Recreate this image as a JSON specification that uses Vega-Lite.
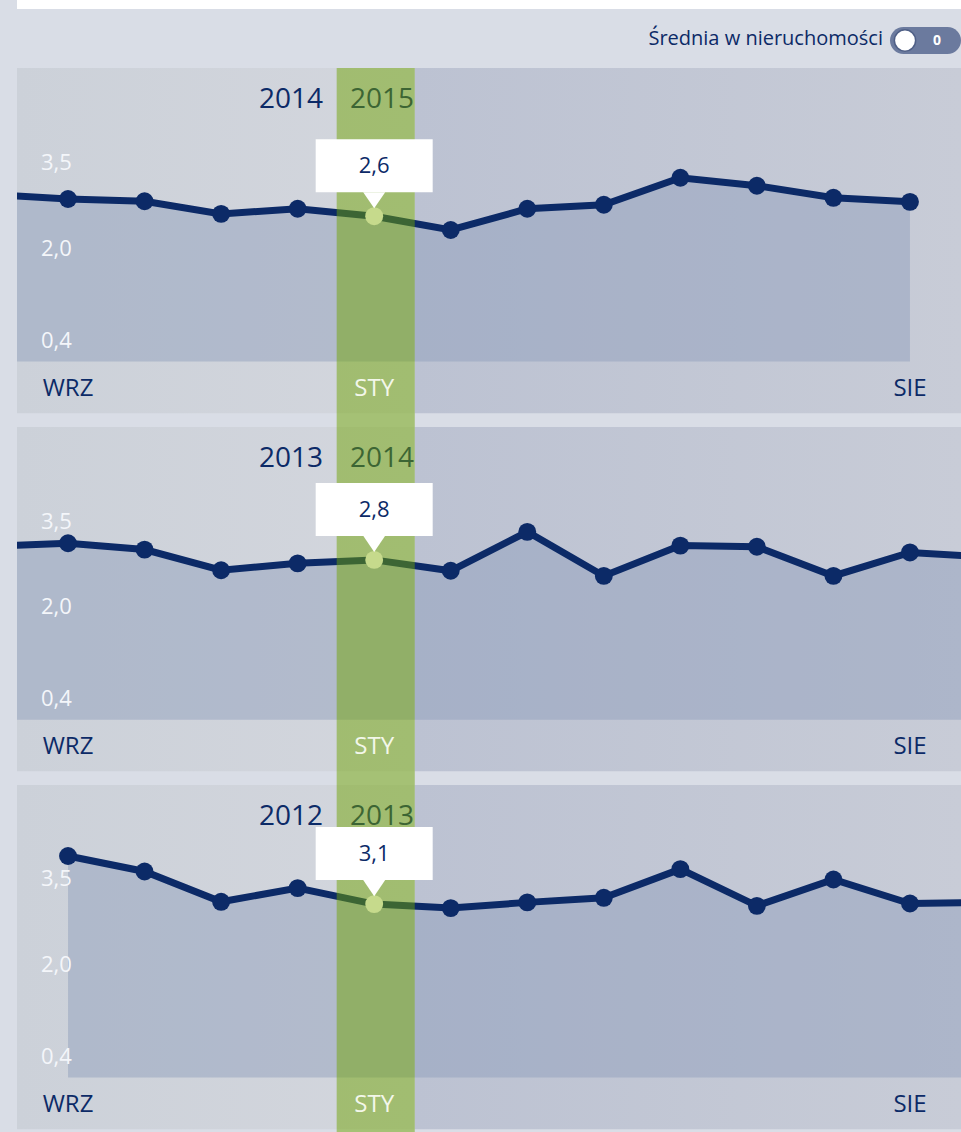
{
  "$schema": "https://vega.github.io/schema/vega-lite/v6.json",
  "background": "#d9dde6",
  "padding": {"left": 17, "right": 0, "top": 0, "bottom": 0},
  "spacing": 0,
  "config": {
    "view": {"stroke": null},
    "font": "Open Sans",
    "locale": {"number": {"decimal": ",", "thousands": " ", "grouping": [3], "currency": ["", " zł"]}}
  },
  "datasets": {
    "series": [
      {"panel": 1, "i": -1, "m": "SIE", "v": 2.95, "sel": 0},
      {"panel": 1, "i": 0, "m": "WRZ", "v": 2.87, "sel": 0},
      {"panel": 1, "i": 1, "m": "PAŹ", "v": 2.83, "sel": 0},
      {"panel": 1, "i": 2, "m": "LIS", "v": 2.61, "sel": 0},
      {"panel": 1, "i": 3, "m": "GRU", "v": 2.70, "sel": 0},
      {"panel": 1, "i": 4, "m": "STY", "v": 2.57, "sel": 1},
      {"panel": 1, "i": 5, "m": "LUT", "v": 2.33, "sel": 0},
      {"panel": 1, "i": 6, "m": "MAR", "v": 2.70, "sel": 0},
      {"panel": 1, "i": 7, "m": "KWI", "v": 2.77, "sel": 0},
      {"panel": 1, "i": 8, "m": "MAJ", "v": 3.24, "sel": 0},
      {"panel": 1, "i": 9, "m": "CZE", "v": 3.10, "sel": 0},
      {"panel": 1, "i": 10, "m": "LIP", "v": 2.89, "sel": 0},
      {"panel": 1, "i": 11, "m": "SIE", "v": 2.82, "sel": 0},
      {"panel": 2, "i": -1, "m": "SIE", "v": 3.07, "sel": 0},
      {"panel": 2, "i": 0, "m": "WRZ", "v": 3.12, "sel": 0},
      {"panel": 2, "i": 1, "m": "PAŹ", "v": 3.01, "sel": 0},
      {"panel": 2, "i": 2, "m": "LIS", "v": 2.65, "sel": 0},
      {"panel": 2, "i": 3, "m": "GRU", "v": 2.77, "sel": 0},
      {"panel": 2, "i": 4, "m": "STY", "v": 2.83, "sel": 1},
      {"panel": 2, "i": 5, "m": "LUT", "v": 2.64, "sel": 0},
      {"panel": 2, "i": 6, "m": "MAR", "v": 3.32, "sel": 0},
      {"panel": 2, "i": 7, "m": "KWI", "v": 2.55, "sel": 0},
      {"panel": 2, "i": 8, "m": "MAJ", "v": 3.08, "sel": 0},
      {"panel": 2, "i": 9, "m": "CZE", "v": 3.06, "sel": 0},
      {"panel": 2, "i": 10, "m": "LIP", "v": 2.55, "sel": 0},
      {"panel": 2, "i": 11, "m": "SIE", "v": 2.96, "sel": 0},
      {"panel": 2, "i": 12, "m": "WRZ", "v": 2.88, "sel": 0},
      {"panel": 3, "i": 0, "m": "WRZ", "v": 3.91, "sel": 0},
      {"panel": 3, "i": 1, "m": "PAŹ", "v": 3.64, "sel": 0},
      {"panel": 3, "i": 2, "m": "LIS", "v": 3.11, "sel": 0},
      {"panel": 3, "i": 3, "m": "GRU", "v": 3.35, "sel": 0},
      {"panel": 3, "i": 4, "m": "STY", "v": 3.07, "sel": 1},
      {"panel": 3, "i": 5, "m": "LUT", "v": 3.00, "sel": 0},
      {"panel": 3, "i": 6, "m": "MAR", "v": 3.10, "sel": 0},
      {"panel": 3, "i": 7, "m": "KWI", "v": 3.18, "sel": 0},
      {"panel": 3, "i": 8, "m": "MAJ", "v": 3.68, "sel": 0},
      {"panel": 3, "i": 9, "m": "CZE", "v": 3.04, "sel": 0},
      {"panel": 3, "i": 10, "m": "LIP", "v": 3.50, "sel": 0},
      {"panel": 3, "i": 11, "m": "SIE", "v": 3.08, "sel": 0},
      {"panel": 3, "i": 12, "m": "WRZ", "v": 3.10, "sel": 0}
    ],
    "years": [
      {"panel": 1, "prev": "2014", "cur": "2015"},
      {"panel": 2, "prev": "2013", "cur": "2014"},
      {"panel": 3, "prev": "2012", "cur": "2013"}
    ],
    "yticks": [{"t": 0.4}, {"t": 2.0}, {"t": 3.5}]
  },
  "vconcat": [
    {
      "width": 944, "height": 68,
      "data": {"values": [{"label": "Średnia w nieruchomości", "state": "0"}]},
      "layer": [
        {"mark": {"type": "rect", "color": "#ffffff"},
         "encoding": {
           "x": {"datum": -0.6667, "type": "quantitative", "scale": {"domain": [-0.6667, 11.6667], "nice": false, "zero": false}, "axis": null},
           "x2": {"datum": 11.6667},
           "y": {"datum": 0, "type": "quantitative", "scale": {"domain": [0, 68], "reverse": true, "nice": false, "zero": false}, "axis": null},
           "y2": {"datum": 9}}},
        {"mark": {"type": "text", "align": "right", "baseline": "middle", "fontSize": 20, "color": "#0c2a67"},
         "encoding": {"x": {"datum": 10.647, "type": "quantitative", "axis": null}, "y": {"datum": 39, "type": "quantitative", "axis": null}, "text": {"field": "label"}}},
        {"mark": {"type": "rect", "color": "#6b7a9e", "cornerRadius": 13.5},
         "encoding": {"x": {"datum": 10.739, "type": "quantitative", "axis": null}, "x2": {"datum": 11.6667}, "y": {"datum": 27, "type": "quantitative", "axis": null}, "y2": {"datum": 54}}},
        {"mark": {"type": "point", "filled": true, "color": "#ffffff", "size": 452, "opacity": 1, "stroke": "#4f5f86", "strokeWidth": 1.5},
         "encoding": {"x": {"datum": 10.935, "type": "quantitative", "axis": null}, "y": {"datum": 40.5, "type": "quantitative", "axis": null}}},
        {"mark": {"type": "text", "align": "center", "baseline": "middle", "fontSize": 14, "fontWeight": "bold", "color": "#ffffff"},
         "encoding": {"x": {"datum": 11.353, "type": "quantitative", "axis": null}, "y": {"datum": 41, "type": "quantitative", "axis": null}, "text": {"field": "state"}}}
      ]
    },
    {
      "width": 944, "height": 359,
      "layer": [
        {"data": {"values": [{}]},
         "mark": {"type": "rect", "color": {"gradient": "linear", "stops": [{"offset": 0, "color": "#ccd1d9"}, {"offset": 1, "color": "#d3d6dd"}]}},
         "encoding": {"x": {"datum": -0.6667, "type": "quantitative", "scale": {"domain": [-0.6667, 11.6667], "nice": false, "zero": false}, "axis": null}, "x2": {"datum": 4.53}, "y": {"datum": 5.15, "type": "quantitative", "scale": {"domain": [-1.1, 5.15], "nice": false, "zero": false}, "axis": null}, "y2": {"datum": -0.86}}},
        {"data": {"values": [{}]},
         "mark": {"type": "rect", "color": {"gradient": "linear", "stops": [{"offset": 0, "color": "#bcc2d2"}, {"offset": 1, "color": "#c8ccd7"}]}},
         "encoding": {"x": {"datum": 4.53, "type": "quantitative", "axis": null}, "x2": {"datum": 11.6667}, "y": {"datum": 5.15, "type": "quantitative", "axis": null}, "y2": {"datum": -0.86}}},
        {"data": {"name": "series"}, "transform": [{"filter": "datum.panel == 1"}],
         "mark": {"type": "area", "color": "#8f9dbb", "opacity": 0.47, "clip": true},
         "encoding": {"x": {"field": "i", "type": "quantitative", "scale": {"domain": [-0.6667, 11.6667], "nice": false, "zero": false}, "axis": null}, "y": {"field": "v", "type": "quantitative", "scale": {"domain": [-1.1, 5.15], "nice": false, "zero": false}, "axis": null}, "y2": {"datum": 0.04}}},
        {"data": {"name": "yticks"},
         "mark": {"type": "text", "align": "left", "baseline": "middle", "fontSize": 22, "color": "#f4f6fa"},
         "encoding": {"x": {"datum": -0.353, "type": "quantitative", "axis": null}, "y": {"field": "t", "type": "quantitative", "axis": null}, "text": {"field": "t", "type": "quantitative", "format": ".1f"}}},
        {"data": {"name": "series"}, "transform": [{"filter": "datum.panel == 1"}],
         "mark": {"type": "line", "color": "#0c2a67", "strokeWidth": 7, "clip": true},
         "encoding": {"x": {"field": "i", "type": "quantitative", "axis": null}, "y": {"field": "v", "type": "quantitative", "axis": null}}},
        {"data": {"name": "series"}, "transform": [{"filter": "datum.panel == 1 && datum.i >= 0 && datum.i <= 11 && datum.sel == 0"}],
         "mark": {"type": "circle", "color": "#0c2a67", "size": 320, "opacity": 1},
         "encoding": {"x": {"field": "i", "type": "quantitative", "axis": null}, "y": {"field": "v", "type": "quantitative", "axis": null}}},
        {"data": {"name": "years"}, "transform": [{"filter": "datum.panel == 1"}],
         "mark": {"type": "text", "align": "right", "baseline": "middle", "fontSize": 28, "color": "#0c2a67"},
         "encoding": {"x": {"datum": 3.331, "type": "quantitative", "axis": null}, "y": {"datum": 4.59, "type": "quantitative", "axis": null}, "text": {"field": "prev"}}},
        {"data": {"name": "years"}, "transform": [{"filter": "datum.panel == 1"}],
         "mark": {"type": "text", "align": "left", "baseline": "middle", "fontSize": 28, "color": "#0c2a67"},
         "encoding": {"x": {"datum": 3.684, "type": "quantitative", "axis": null}, "y": {"datum": 4.59, "type": "quantitative", "axis": null}, "text": {"field": "cur"}}},
        {"data": {"values": [{}]},
         "mark": {"type": "rect", "color": "#6ea300", "opacity": 0.49},
         "encoding": {"x": {"datum": 3.51, "type": "quantitative", "axis": null}, "x2": {"datum": 4.53}}},
        {"data": {"name": "series"}, "transform": [{"filter": "datum.panel == 1 && (datum.i == 0 || datum.i == 4 || datum.i == 11)"}],
         "mark": {"type": "text", "align": "center", "baseline": "middle", "fontSize": 24},
         "encoding": {"x": {"field": "i", "type": "quantitative", "axis": null}, "y": {"datum": -0.44, "type": "quantitative", "axis": null}, "text": {"field": "m"},
                      "color": {"condition": {"test": "datum.sel == 1", "value": "#f3f7ea"}, "value": "#0c2a67"}}},
        {"data": {"name": "series"}, "transform": [{"filter": "datum.panel == 1 && datum.sel == 1"}],
         "mark": {"type": "circle", "color": "#c6da8c", "size": 320, "opacity": 1},
         "encoding": {"x": {"field": "i", "type": "quantitative", "axis": null}, "y": {"field": "v", "type": "quantitative", "axis": null}}},
        {"data": {"name": "series"}, "transform": [{"filter": "datum.panel == 1 && datum.sel == 1"}],
         "mark": {"type": "rect", "color": "#ffffff", "xOffset": -58.5, "x2Offset": 58.5, "yOffset": -77, "y2Offset": -24},
         "encoding": {"x": {"field": "i", "type": "quantitative", "axis": null}, "x2": {"field": "i"}, "y": {"field": "v", "type": "quantitative", "axis": null}, "y2": {"field": "v"}}},
        {"data": {"name": "series"}, "transform": [{"filter": "datum.panel == 1 && datum.sel == 1"}],
         "mark": {"type": "point", "shape": "M-1,-0.73L1,-0.73L0,0.73Z", "filled": true, "color": "#ffffff", "size": 484, "opacity": 1, "strokeWidth": 0, "yOffset": -16},
         "encoding": {"x": {"field": "i", "type": "quantitative", "axis": null}, "y": {"field": "v", "type": "quantitative", "axis": null}}},
        {"data": {"name": "series"}, "transform": [{"filter": "datum.panel == 1 && datum.sel == 1"}],
         "mark": {"type": "text", "align": "center", "baseline": "middle", "fontSize": 22, "color": "#0c2a67", "yOffset": -50},
         "encoding": {"x": {"field": "i", "type": "quantitative", "axis": null}, "y": {"field": "v", "type": "quantitative", "axis": null}, "text": {"field": "v", "type": "quantitative", "format": ".1f"}}}
      ]
    },
    {
      "width": 944, "height": 358,
      "layer": [
        {"data": {"values": [{}]},
         "mark": {"type": "rect", "color": {"gradient": "linear", "stops": [{"offset": 0, "color": "#ccd1d9"}, {"offset": 1, "color": "#d3d6dd"}]}},
         "encoding": {"x": {"datum": -0.6667, "type": "quantitative", "scale": {"domain": [-0.6667, 11.6667], "nice": false, "zero": false}, "axis": null}, "x2": {"datum": 4.53}, "y": {"datum": 5.15, "type": "quantitative", "scale": {"domain": [-1.1, 5.15], "nice": false, "zero": false}, "axis": null}, "y2": {"datum": -0.86}}},
        {"data": {"values": [{}]},
         "mark": {"type": "rect", "color": {"gradient": "linear", "stops": [{"offset": 0, "color": "#bcc2d2"}, {"offset": 1, "color": "#c8ccd7"}]}},
         "encoding": {"x": {"datum": 4.53, "type": "quantitative", "axis": null}, "x2": {"datum": 11.6667}, "y": {"datum": 5.15, "type": "quantitative", "axis": null}, "y2": {"datum": -0.86}}},
        {"data": {"name": "series"}, "transform": [{"filter": "datum.panel == 2"}],
         "mark": {"type": "area", "color": "#8f9dbb", "opacity": 0.47, "clip": true},
         "encoding": {"x": {"field": "i", "type": "quantitative", "scale": {"domain": [-0.6667, 11.6667], "nice": false, "zero": false}, "axis": null}, "y": {"field": "v", "type": "quantitative", "scale": {"domain": [-1.1, 5.15], "nice": false, "zero": false}, "axis": null}, "y2": {"datum": 0.04}}},
        {"data": {"name": "yticks"},
         "mark": {"type": "text", "align": "left", "baseline": "middle", "fontSize": 22, "color": "#f4f6fa"},
         "encoding": {"x": {"datum": -0.353, "type": "quantitative", "axis": null}, "y": {"field": "t", "type": "quantitative", "axis": null}, "text": {"field": "t", "type": "quantitative", "format": ".1f"}}},
        {"data": {"name": "series"}, "transform": [{"filter": "datum.panel == 2"}],
         "mark": {"type": "line", "color": "#0c2a67", "strokeWidth": 7, "clip": true},
         "encoding": {"x": {"field": "i", "type": "quantitative", "axis": null}, "y": {"field": "v", "type": "quantitative", "axis": null}}},
        {"data": {"name": "series"}, "transform": [{"filter": "datum.panel == 2 && datum.i >= 0 && datum.i <= 11 && datum.sel == 0"}],
         "mark": {"type": "circle", "color": "#0c2a67", "size": 320, "opacity": 1},
         "encoding": {"x": {"field": "i", "type": "quantitative", "axis": null}, "y": {"field": "v", "type": "quantitative", "axis": null}}},
        {"data": {"name": "years"}, "transform": [{"filter": "datum.panel == 2"}],
         "mark": {"type": "text", "align": "right", "baseline": "middle", "fontSize": 28, "color": "#0c2a67"},
         "encoding": {"x": {"datum": 3.331, "type": "quantitative", "axis": null}, "y": {"datum": 4.59, "type": "quantitative", "axis": null}, "text": {"field": "prev"}}},
        {"data": {"name": "years"}, "transform": [{"filter": "datum.panel == 2"}],
         "mark": {"type": "text", "align": "left", "baseline": "middle", "fontSize": 28, "color": "#0c2a67"},
         "encoding": {"x": {"datum": 3.684, "type": "quantitative", "axis": null}, "y": {"datum": 4.59, "type": "quantitative", "axis": null}, "text": {"field": "cur"}}},
        {"data": {"values": [{}]},
         "mark": {"type": "rect", "color": "#6ea300", "opacity": 0.49},
         "encoding": {"x": {"datum": 3.51, "type": "quantitative", "axis": null}, "x2": {"datum": 4.53}}},
        {"data": {"name": "series"}, "transform": [{"filter": "datum.panel == 2 && (datum.i == 0 || datum.i == 4 || datum.i == 11)"}],
         "mark": {"type": "text", "align": "center", "baseline": "middle", "fontSize": 24},
         "encoding": {"x": {"field": "i", "type": "quantitative", "axis": null}, "y": {"datum": -0.44, "type": "quantitative", "axis": null}, "text": {"field": "m"},
                      "color": {"condition": {"test": "datum.sel == 1", "value": "#f3f7ea"}, "value": "#0c2a67"}}},
        {"data": {"name": "series"}, "transform": [{"filter": "datum.panel == 2 && datum.sel == 1"}],
         "mark": {"type": "circle", "color": "#c6da8c", "size": 320, "opacity": 1},
         "encoding": {"x": {"field": "i", "type": "quantitative", "axis": null}, "y": {"field": "v", "type": "quantitative", "axis": null}}},
        {"data": {"name": "series"}, "transform": [{"filter": "datum.panel == 2 && datum.sel == 1"}],
         "mark": {"type": "rect", "color": "#ffffff", "xOffset": -58.5, "x2Offset": 58.5, "yOffset": -77, "y2Offset": -24},
         "encoding": {"x": {"field": "i", "type": "quantitative", "axis": null}, "x2": {"field": "i"}, "y": {"field": "v", "type": "quantitative", "axis": null}, "y2": {"field": "v"}}},
        {"data": {"name": "series"}, "transform": [{"filter": "datum.panel == 2 && datum.sel == 1"}],
         "mark": {"type": "point", "shape": "M-1,-0.73L1,-0.73L0,0.73Z", "filled": true, "color": "#ffffff", "size": 484, "opacity": 1, "strokeWidth": 0, "yOffset": -16},
         "encoding": {"x": {"field": "i", "type": "quantitative", "axis": null}, "y": {"field": "v", "type": "quantitative", "axis": null}}},
        {"data": {"name": "series"}, "transform": [{"filter": "datum.panel == 2 && datum.sel == 1"}],
         "mark": {"type": "text", "align": "center", "baseline": "middle", "fontSize": 22, "color": "#0c2a67", "yOffset": -50},
         "encoding": {"x": {"field": "i", "type": "quantitative", "axis": null}, "y": {"field": "v", "type": "quantitative", "axis": null}, "text": {"field": "v", "type": "quantitative", "format": ".1f"}}}
      ]
    },
    {
      "width": 944, "height": 347,
      "layer": [
        {"data": {"values": [{}]},
         "mark": {"type": "rect", "color": {"gradient": "linear", "stops": [{"offset": 0, "color": "#ccd1d9"}, {"offset": 1, "color": "#d3d6dd"}]}},
         "encoding": {"x": {"datum": -0.6667, "type": "quantitative", "scale": {"domain": [-0.6667, 11.6667], "nice": false, "zero": false}, "axis": null}, "x2": {"datum": 4.53}, "y": {"datum": 5.15, "type": "quantitative", "scale": {"domain": [-0.91, 5.15], "nice": false, "zero": false}, "axis": null}, "y2": {"datum": -0.86}}},
        {"data": {"values": [{}]},
         "mark": {"type": "rect", "color": {"gradient": "linear", "stops": [{"offset": 0, "color": "#bcc2d2"}, {"offset": 1, "color": "#c8ccd7"}]}},
         "encoding": {"x": {"datum": 4.53, "type": "quantitative", "axis": null}, "x2": {"datum": 11.6667}, "y": {"datum": 5.15, "type": "quantitative", "axis": null}, "y2": {"datum": -0.86}}},
        {"data": {"name": "series"}, "transform": [{"filter": "datum.panel == 3"}],
         "mark": {"type": "area", "color": "#8f9dbb", "opacity": 0.47, "clip": true},
         "encoding": {"x": {"field": "i", "type": "quantitative", "scale": {"domain": [-0.6667, 11.6667], "nice": false, "zero": false}, "axis": null}, "y": {"field": "v", "type": "quantitative", "scale": {"domain": [-0.91, 5.15], "nice": false, "zero": false}, "axis": null}, "y2": {"datum": 0.04}}},
        {"data": {"name": "yticks"},
         "mark": {"type": "text", "align": "left", "baseline": "middle", "fontSize": 22, "color": "#f4f6fa"},
         "encoding": {"x": {"datum": -0.353, "type": "quantitative", "axis": null}, "y": {"field": "t", "type": "quantitative", "axis": null}, "text": {"field": "t", "type": "quantitative", "format": ".1f"}}},
        {"data": {"name": "series"}, "transform": [{"filter": "datum.panel == 3"}],
         "mark": {"type": "line", "color": "#0c2a67", "strokeWidth": 7, "clip": true},
         "encoding": {"x": {"field": "i", "type": "quantitative", "axis": null}, "y": {"field": "v", "type": "quantitative", "axis": null}}},
        {"data": {"name": "series"}, "transform": [{"filter": "datum.panel == 3 && datum.i >= 0 && datum.i <= 11 && datum.sel == 0"}],
         "mark": {"type": "circle", "color": "#0c2a67", "size": 320, "opacity": 1},
         "encoding": {"x": {"field": "i", "type": "quantitative", "axis": null}, "y": {"field": "v", "type": "quantitative", "axis": null}}},
        {"data": {"name": "years"}, "transform": [{"filter": "datum.panel == 3"}],
         "mark": {"type": "text", "align": "right", "baseline": "middle", "fontSize": 28, "color": "#0c2a67"},
         "encoding": {"x": {"datum": 3.331, "type": "quantitative", "axis": null}, "y": {"datum": 4.59, "type": "quantitative", "axis": null}, "text": {"field": "prev"}}},
        {"data": {"name": "years"}, "transform": [{"filter": "datum.panel == 3"}],
         "mark": {"type": "text", "align": "left", "baseline": "middle", "fontSize": 28, "color": "#0c2a67"},
         "encoding": {"x": {"datum": 3.684, "type": "quantitative", "axis": null}, "y": {"datum": 4.59, "type": "quantitative", "axis": null}, "text": {"field": "cur"}}},
        {"data": {"values": [{}]},
         "mark": {"type": "rect", "color": "#6ea300", "opacity": 0.49},
         "encoding": {"x": {"datum": 3.51, "type": "quantitative", "axis": null}, "x2": {"datum": 4.53}}},
        {"data": {"name": "series"}, "transform": [{"filter": "datum.panel == 3 && (datum.i == 0 || datum.i == 4 || datum.i == 11)"}],
         "mark": {"type": "text", "align": "center", "baseline": "middle", "fontSize": 24},
         "encoding": {"x": {"field": "i", "type": "quantitative", "axis": null}, "y": {"datum": -0.44, "type": "quantitative", "axis": null}, "text": {"field": "m"},
                      "color": {"condition": {"test": "datum.sel == 1", "value": "#f3f7ea"}, "value": "#0c2a67"}}},
        {"data": {"name": "series"}, "transform": [{"filter": "datum.panel == 3 && datum.sel == 1"}],
         "mark": {"type": "circle", "color": "#c6da8c", "size": 320, "opacity": 1},
         "encoding": {"x": {"field": "i", "type": "quantitative", "axis": null}, "y": {"field": "v", "type": "quantitative", "axis": null}}},
        {"data": {"name": "series"}, "transform": [{"filter": "datum.panel == 3 && datum.sel == 1"}],
         "mark": {"type": "rect", "color": "#ffffff", "xOffset": -58.5, "x2Offset": 58.5, "yOffset": -77, "y2Offset": -24},
         "encoding": {"x": {"field": "i", "type": "quantitative", "axis": null}, "x2": {"field": "i"}, "y": {"field": "v", "type": "quantitative", "axis": null}, "y2": {"field": "v"}}},
        {"data": {"name": "series"}, "transform": [{"filter": "datum.panel == 3 && datum.sel == 1"}],
         "mark": {"type": "point", "shape": "M-1,-0.73L1,-0.73L0,0.73Z", "filled": true, "color": "#ffffff", "size": 484, "opacity": 1, "strokeWidth": 0, "yOffset": -16},
         "encoding": {"x": {"field": "i", "type": "quantitative", "axis": null}, "y": {"field": "v", "type": "quantitative", "axis": null}}},
        {"data": {"name": "series"}, "transform": [{"filter": "datum.panel == 3 && datum.sel == 1"}],
         "mark": {"type": "text", "align": "center", "baseline": "middle", "fontSize": 22, "color": "#0c2a67", "yOffset": -50},
         "encoding": {"x": {"field": "i", "type": "quantitative", "axis": null}, "y": {"field": "v", "type": "quantitative", "axis": null}, "text": {"field": "v", "type": "quantitative", "format": ".1f"}}}
      ]
    }
  ]
}
